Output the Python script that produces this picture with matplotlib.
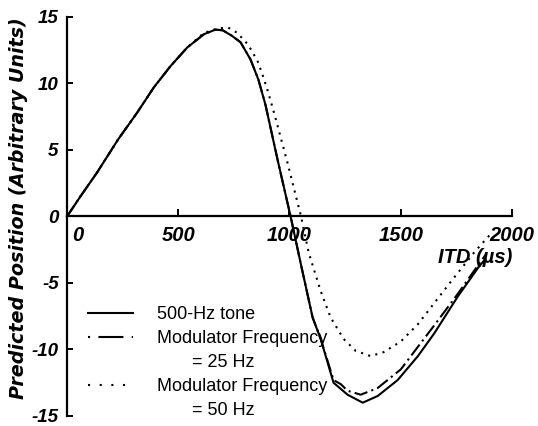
from __future__ import annotations

import matplotlib

matplotlib.use("Agg")
import matplotlib.pyplot as plt
from matplotlib.lines import Line2D
from matplotlib.transforms import ScaledTranslation

# ITD in microseconds, predicted position in arbitrary units
TONE_ITD = [0, 60, 135, 230, 315, 390, 465, 540, 615, 667, 700, 740, 780, 825, 860, 892,
            946, 1005, 1050, 1104, 1140, 1198, 1261, 1329, 1396, 1486, 1577, 1650, 1757, 1850, 1880]
TONE_POS = [0, 1.5, 3.3, 5.8, 7.8, 9.7, 11.3, 12.7, 13.7, 14.05, 14.0, 13.6, 13.1, 11.8, 10.3, 8.4,
            4.3, 0, -3.5, -7.6, -9.2, -12.5, -13.4, -14.0, -13.5, -12.3, -10.5, -8.8, -6.0, -3.8, -3.2]

MOD25_ITD = [0, 60, 135, 230, 315, 390, 465, 540, 615, 667, 700, 740, 780, 825, 860, 892,
             946, 1005, 1050, 1104, 1140, 1198, 1230, 1261, 1320, 1396, 1500, 1577, 1650, 1757, 1850, 1885]
MOD25_POS = [0, 1.5, 3.3, 5.8, 7.8, 9.7, 11.3, 12.7, 13.7, 14.05, 14.0, 13.6, 13.1, 11.8, 10.3, 8.4,
             4.3, 0, -3.5, -7.6, -9.2, -12.3, -12.6, -13.1, -13.4, -12.9, -11.5, -9.8, -8.2, -5.8, -3.6, -2.8]

MOD50_ITD = [0, 60, 135, 230, 315, 390, 465, 540, 615, 680, 725, 766, 815, 856, 878, 905, 937,
             990, 1052, 1086, 1140, 1185, 1243, 1297, 1365, 1423, 1500, 1577, 1725, 1830, 1905]
MOD50_POS = [0, 1.5, 3.3, 5.8, 7.8, 9.7, 11.3, 12.7, 13.8, 14.15, 14.2, 13.8, 12.9, 11.7, 10.7, 9.3, 7.4,
             4.1, 0, -2.7, -5.6, -7.6, -9.2, -10.1, -10.5, -10.2, -9.4, -8.1, -4.9, -2.7, -1.3]

X_TICKS = [0, 500, 1000, 1500, 2000]
Y_TICKS = [-15, -10, -5, 0, 5, 10, 15]

LEGEND_LABELS = ["500-Hz tone", "Modulator Frequency", "       = 25 Hz",
                 "Modulator Frequency", "       = 50 Hz"]

TICK_FONT = "Liberation Sans"
LABEL_FONT = "DejaVu Sans"


def main() -> None:
    fig = plt.figure(figsize=(5.38, 4.26), dpi=100)
    ax = fig.add_axes([0.1245, 0.0235, 0.8272, 0.9366])

    lw = 1.5
    ax.plot(TONE_ITD, TONE_POS, color="black", lw=lw, solid_joinstyle="round", clip_on=False)
    ax.plot(MOD25_ITD, MOD25_POS, color="black", lw=lw, linestyle=(0, (6.5, 2, 1, 2)), clip_on=False)
    ax.plot(MOD50_ITD, MOD50_POS, color="black", lw=lw, linestyle=(0, (1, 2.6)), clip_on=False)

    ax.set_xlim(0, 2000)
    ax.set_ylim(-15, 15)

    for side in ["top", "right"]:
        ax.spines[side].set_visible(False)
    ax.spines["bottom"].set_position(("data", 0))
    ax.spines["left"].set_linewidth(1.6)
    ax.spines["bottom"].set_linewidth(1.6)

    ax.set_xticks(X_TICKS)
    ax.set_xticklabels([str(t) for t in X_TICKS])
    ax.set_yticks(Y_TICKS)
    ax.set_yticklabels([str(t) for t in Y_TICKS])
    ax.tick_params(axis="x", direction="in", length=5, width=1.4, pad=7)
    ax.tick_params(axis="y", direction="in", length=4, width=1.4, pad=6)

    for lab in ax.get_xticklabels():
        lab.set_fontfamily(TICK_FONT)
        lab.set_fontsize(14.5)
        lab.set_fontweight("bold")
        lab.set_fontstyle("italic")
    for lab in ax.get_yticklabels():
        lab.set_fontfamily(TICK_FONT)
        lab.set_fontsize(13.5)
        lab.set_fontweight("bold")
        lab.set_fontstyle("italic")

    # the "0" on the x axis sits a bit right of its tick
    zero_lab = ax.get_xticklabels()[0]
    zero_lab.set_transform(zero_lab.get_transform() + ScaledTranslation(8 / 72, 0, fig.dpi_scale_trans))

    ax.set_xlabel("ITD (µs)", fontfamily=TICK_FONT, fontsize=14.5, fontweight="bold", fontstyle="italic")
    ax.xaxis.label.set_va("center")
    ax.xaxis.set_label_coords(0.917, 0.398)

    ax.set_ylabel("Predicted Position (Arbitrary Units)", fontfamily=LABEL_FONT, fontsize=13.8,
                  fontweight="bold", fontstyle="italic")
    ax.yaxis.label.set_va("center")
    ax.yaxis.set_label_coords(-0.108, 0.522)

    blank = Line2D([], [], color="none")
    handles = [
        Line2D([], [], color="black", lw=lw),
        Line2D([], [], color="black", lw=lw, linestyle=(0, (1, 4, 12, 4))),
        blank,
        Line2D([], [], color="black", lw=lw, linestyle=(0, (1, 4.6))),
        blank,
    ]
    ax.legend(handles, LEGEND_LABELS, loc="upper left", bbox_to_anchor=(0.047, 0.275),
              frameon=False, borderpad=0, borderaxespad=0, handlelength=2.5, handletextpad=1.33,
              labelspacing=0.38, prop={"family": TICK_FONT, "size": 13})

    fig.savefig("out.png", dpi=100)
    plt.close(fig)


if __name__ == "__main__":
    main()
